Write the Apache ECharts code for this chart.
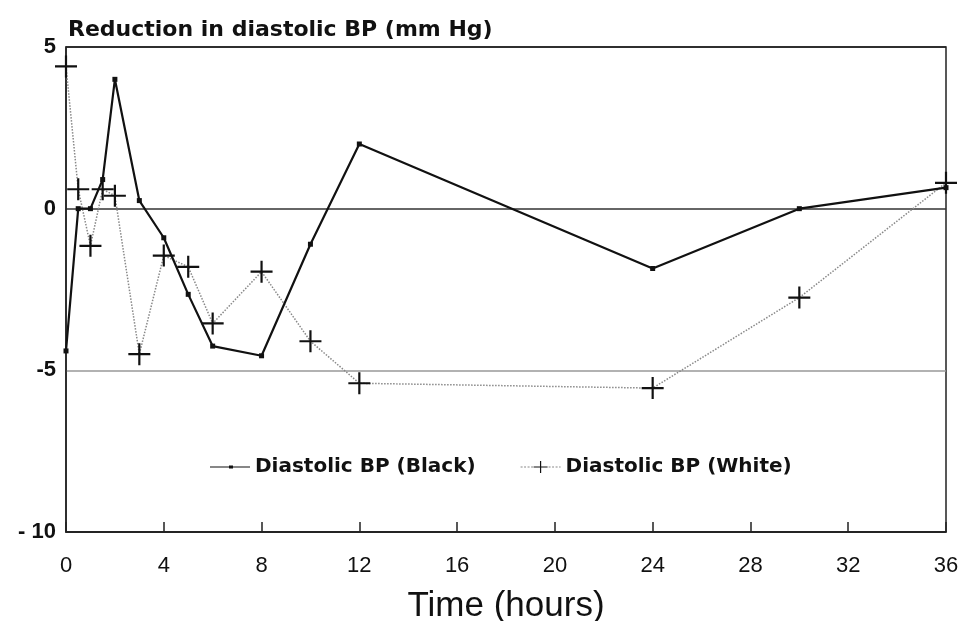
<!DOCTYPE html>
<html>
<head>
<meta charset="utf-8">
<script src="https://cdn.jsdelivr.net/npm/echarts@6/dist/echarts.min.js"></script>
<style>html,body{margin:0;padding:0;background:#fff;}#c{width:967px;height:621px;}</style>
</head>
<body>
<div id="c"></div>
<script>
const hours = [0, 0.5, 1, 1.5, 2, 3, 4, 5, 6, 8, 10, 12, 24, 30, 36];
const blackBP = [-4.4, 0, 0, 0.9, 4.0, 0.25, -0.9, -2.65, -4.25, -4.55, -1.1, 2.0, -1.85, 0, 0.65];
const whiteBP = [4.4, 0.6, -1.15, 0.6, 0.4, -4.5, -1.45, -1.8, -3.55, -1.95, -4.1, -5.4, -5.55, -2.75, 0.8];
const seriesNames = ['Diastolic BP (Black)', 'Diastolic BP (White)'];
const yTickLabels = {'5': '5', '0': '0', '-5': '-5', '-10': '- 10'};
const yTitle = 'Reduction in diastolic BP (mm Hg)';
const xTitle = 'Time (hours)';

const pair = (xs, ys) => xs.map((x, i) => [x, ys[i]]);
const plus = 'path://M0,4.5 L10,4.5 L10,5.5 L0,5.5 Z M4.5,0 L5.5,0 L5.5,10 L4.5,10 Z';
const legendBlack = 'path://M0,5.6 L40,5.6 L40,6.4 L0,6.4 Z M19,4.5 L23,4.5 L23,7.5 L19,7.5 Z';
const legendWhite = 'path://M0,5.7 L2,5.7 L2,6.3 L0,6.3 Z M3.5,5.7 L5.5,5.7 L5.5,6.3 L3.5,6.3 Z M7,5.7 L9,5.7 L9,6.3 L7,6.3 Z M10.5,5.7 L12.5,5.7 L12.5,6.3 L10.5,6.3 Z M13,5.5 L27,5.5 L27,6.5 L13,6.5 Z M19.4,0 L20.6,0 L20.6,12 L19.4,12 Z M28,5.7 L30,5.7 L30,6.3 L28,6.3 Z M31.5,5.7 L33.5,5.7 L33.5,6.3 L31.5,6.3 Z M35,5.7 L37,5.7 L37,6.3 L35,6.3 Z M38.5,5.7 L40,5.7 L40,6.3 L38.5,6.3 Z';
const font = '"DejaVu Sans", "Liberation Sans", Arial, sans-serif';
const font2 = '"Liberation Sans", Arial, sans-serif';
const yLab = {fontFamily: font2, fontSize: 22, fontWeight: 'bold', color: '#111'};

const chart = echarts.init(document.getElementById('c'), null, {renderer: 'canvas'});
chart.setOption({
  animation: false,
  backgroundColor: '#fff',
  title: {
    text: yTitle, left: 63, top: 14,
    textStyle: {fontFamily: font, fontSize: 22, fontWeight: 'bold', color: '#111'}
  },
  grid: {left: 66, right: 21, top: 47, bottom: 89, show: true, borderColor: '#222', borderWidth: 1.5,
         backgroundColor: 'transparent', containLabel: false, outerBoundsMode: 'none'},
  legend: {
    top: 452, left: 205, itemGap: 45, itemWidth: 40, itemHeight: 14,
    textStyle: {fontFamily: font, fontSize: 20, fontWeight: 'bold', color: '#111'},
    data: [
      {name: seriesNames[0], icon: legendBlack},
      {name: seriesNames[1], icon: legendWhite}
    ]
  },
  xAxis: {
    type: 'value', min: 0, max: 36, interval: 4,
    name: xTitle, nameLocation: 'middle', nameGap: 57,
    nameTextStyle: {fontFamily: font2, fontSize: 35, color: '#111'},
    axisLine: {show: true, onZero: false, lineStyle: {color: '#222', width: 1.5}},
    axisTick: {show: true, inside: true, length: 10, lineStyle: {color: '#222', width: 1.5}},
    axisLabel: {fontFamily: font2, fontSize: 22, color: '#111', margin: 23},
    splitLine: {show: false}
  },
  yAxis: {
    type: 'value', min: -10, max: 5, interval: 5,
    axisLine: {show: true, onZero: false, lineStyle: {color: '#222', width: 1.5}},
    axisTick: {show: false},
    axisLabel: {
      margin: 10,
      formatter: v => '{a|' + (yTickLabels[String(v)] || String(v)) + '}',
      rich: {a: yLab}
    },
    splitLine: {show: true, lineStyle: {color: ['#222', '#999', '#333', '#222'], width: 1.5}}
  },
  series: [
    {
      name: seriesNames[0], type: 'line', data: pair(hours, blackBP),
      symbol: 'rect', symbolSize: 5, showSymbol: true,
      lineStyle: {color: '#111', width: 2.2},
      itemStyle: {color: '#111'},
      z: 3
    },
    {
      name: seriesNames[1], type: 'line', data: pair(hours, whiteBP),
      symbol: plus, symbolSize: 22, showSymbol: true,
      lineStyle: {color: '#888', width: 1.5, type: 'dotted'},
      itemStyle: {color: '#111'},
      clip: false,
      z: 2
    }
  ]
});
</script>
</body>
</html>
